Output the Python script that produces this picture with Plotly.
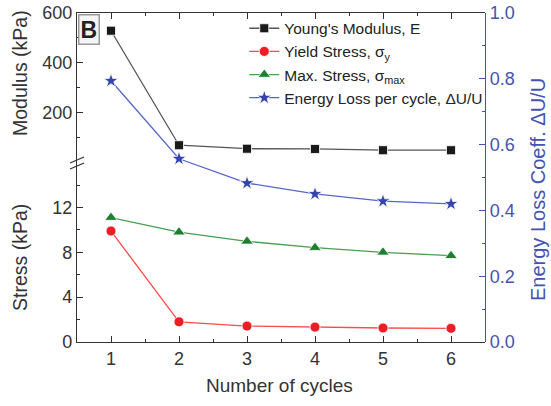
import plotly.graph_objects as go

cycles = [1, 2, 3, 4, 5, 6]
modulus_kpa = [529, 70, 56, 55, 50, 50]
yield_stress = [9.9, 1.8, 1.42, 1.33, 1.25, 1.22]
max_stress = [11.1, 9.8, 8.98, 8.42, 8.0, 7.7]
energy_loss = [0.794, 0.557, 0.483, 0.450, 0.428, 0.420]

names = ["Young's Modulus, E", "Yield Stress, σ<sub>y</sub>",
         "Max. Stress, σ<sub>max</sub>", "Energy Loss per cycle, ΔU/U"]

FONT = "Liberation Sans, Arial, sans-serif"
BLUE_AX = "#4553B0"

fig = go.Figure()
fig.add_trace(go.Scatter(x=cycles, y=modulus_kpa, name=names[0], xaxis="x2", yaxis="y2",
                         mode="lines+markers", legendgroup="a",
                         line=dict(color="#555555", width=1.3),
                         marker=dict(symbol="square", size=9, color="#1a1a1a",
                                     line=dict(color="white", width=0.8))))
fig.add_trace(go.Scatter(x=cycles, y=yield_stress, name=names[1], xaxis="x", yaxis="y",
                         mode="lines+markers", legendgroup="b",
                         line=dict(color="#FF4A4A", width=1.3),
                         marker=dict(symbol="circle", size=10, color="#EE1C25",
                                     line=dict(color="white", width=0.8))))
fig.add_trace(go.Scatter(x=cycles, y=max_stress, name=names[2], xaxis="x", yaxis="y",
                         mode="lines+markers", legendgroup="c",
                         line=dict(color="#45A052", width=1.3),
                         marker=dict(symbol="triangle-up", size=11, color="#1E7F2E",
                                     line=dict(color="white", width=0.8))))
fig.add_trace(go.Scatter(x=cycles, y=energy_loss, name=names[3], xaxis="x", yaxis="y3",
                         mode="lines+markers", legendgroup="d",
                         line=dict(color="#5566CC", width=1.3),
                         marker=dict(symbol="star", size=11, color="#3344AA",
                                     line=dict(color="white", width=0.8))))

tickfont = dict(family=FONT, size=18, color="#333333")
common = dict(showline=True, linecolor="#333333", linewidth=1.3, ticks="inside",
              ticklen=6, tickwidth=1.2, tickcolor="#333333", showgrid=False,
              zeroline=False, tickfont=tickfont, automargin=False)

SPLIT = 0.545
fig.update_layout(
    width=551, height=406,
    margin=dict(l=77, r=66, t=13, b=64, autoexpand=False),
    paper_bgcolor="white", plot_bgcolor="rgba(0,0,0,0)",
    showlegend=True,
    legend=dict(x=0.41, y=1.004, xanchor="left", yanchor="top",
                bgcolor="rgba(0,0,0,0)", tracegroupgap=0,
                font=dict(family=FONT, size=15.5, color="#222222")),
    xaxis=dict(domain=[0, 1], anchor="y", range=[0.5, 6.5],
               tickvals=cycles, ticktext=[str(c) for c in cycles],
               minor=dict(tickvals=[1.5, 2.5, 3.5, 4.5, 5.5], ticklen=3,
                          ticks="inside", tickcolor="#333333"),
               **common),
    xaxis2=dict(domain=[0, 1], anchor="y2", range=[0.5, 6.5], side="top",
                matches="x", showticklabels=False, tickvals=cycles,
                minor=dict(tickvals=[1.5, 2.5, 3.5, 4.5, 5.5], ticklen=3,
                           ticks="inside", tickcolor="#333333"),
                **common),
    yaxis=dict(domain=[0, SPLIT], anchor="x", range=[0, 16],
               tickvals=[0, 4, 8, 12],
               minor=dict(tickvals=[2, 6, 10, 14], ticklen=3, ticks="inside",
                          tickcolor="#333333"),
               **common),
    yaxis2=dict(domain=[SPLIT, 1], anchor="x2", range=[0, 600],
                tickvals=[200, 400, 600],
                minor=dict(tickvals=[100, 300, 500], ticklen=3, ticks="inside",
                           tickcolor="#333333"),
                **common),
    yaxis3=dict(domain=[0, 1], anchor="x", side="right", range=[0, 1],
                tickvals=[0, 0.2, 0.4, 0.6, 0.8, 1.0], tickformat=".1f",
                minor=dict(tickvals=[0.1, 0.3, 0.5, 0.7, 0.9], ticklen=3,
                           ticks="inside", tickcolor=BLUE_AX),
                showline=True, linecolor=BLUE_AX, linewidth=1.3, ticks="inside",
                ticklen=6, tickwidth=1.2, tickcolor=BLUE_AX, showgrid=False,
                zeroline=False, automargin=False,
                tickfont=dict(family=FONT, size=18, color=BLUE_AX)),
)

PW, PH = 551 - 77 - 66, 406 - 13 - 64


def px(xp):
    return (xp - 77) / PW


def py(yp):
    return (406 - 64 - yp) / PH


# axis break mark on the left axis
for dy in (-3, 3):
    fig.add_shape(type="line", xref="paper", yref="paper",
                  x0=px(70), y0=py(166 + dy), x1=px(84), y1=py(160 + dy),
                  line=dict(color="#333333", width=1.3))

annos = [
    dict(text="Modulus (kPa)", x=px(20), y=py(73), textangle=-90,
         font=dict(family=FONT, size=19.5, color="#333333")),
    dict(text="Stress (kPa)", x=px(20), y=py(258), textangle=-90,
         font=dict(family=FONT, size=19.5, color="#333333")),
    dict(text="Energy Loss Coeff. ΔU/U", x=px(538), y=py(190), textangle=-90,
         font=dict(family=FONT, size=20, color=BLUE_AX)),
    dict(text="Number of cycles", x=px(279), y=py(385),
         font=dict(family=FONT, size=19, color="#333333")),
]
for a in annos:
    fig.add_annotation(xref="paper", yref="paper", showarrow=False,
                       xanchor="center", yanchor="middle", **a)

fig.add_annotation(xref="paper", yref="paper", x=0, y=1, xanchor="left", yanchor="top",
                   text="<b>B</b>", showarrow=False,
                   font=dict(family=FONT, size=23, color="#222222"),
                   bordercolor="#999999", borderwidth=1.5, bgcolor="#F4F4F4",
                   borderpad=1, xshift=1, yshift=-1)

fig.write_html("out.html")
